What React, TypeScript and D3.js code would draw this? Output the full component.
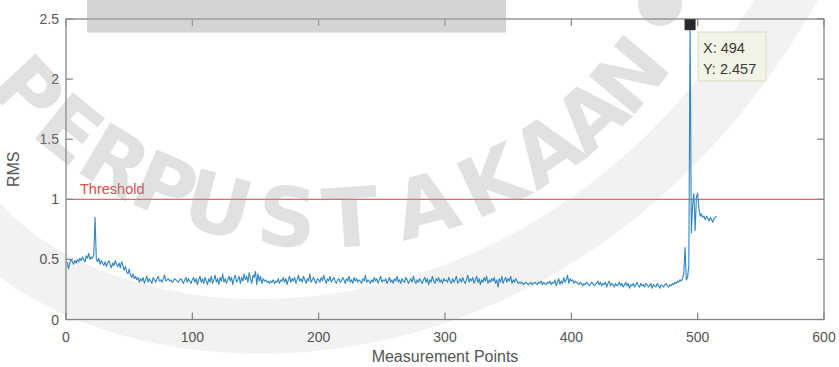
import React from "react";
import * as d3 from "d3";

const rms: number[] = [
  0.48,0.42,0.47,0.50,0.48,0.46,0.49,0.47,0.50,0.48,0.51,0.49,0.52,0.50,0.48,0.53,0.51,0.55,0.50,0.52,
  0.51,0.54,0.85,0.50,0.48,0.51,0.46,0.49,0.47,0.45,0.48,0.44,0.47,0.49,0.46,0.43,0.47,0.45,0.49,0.46,
  0.44,0.47,0.43,0.48,0.45,0.41,0.44,0.40,0.38,0.42,0.37,0.35,0.38,0.34,0.36,0.33,0.35,0.31,0.34,0.32,
  0.35,0.30,0.33,0.36,0.31,0.34,0.32,0.30,0.35,0.33,0.31,0.34,0.36,0.32,0.33,0.31,0.34,0.37,0.32,0.33,
  0.34,0.32,0.33,0.31,0.32,0.34,0.33,0.32,0.31,0.33,0.34,0.32,0.30,0.33,0.35,0.31,0.34,0.32,0.30,0.33,
  0.35,0.31,0.34,0.29,0.33,0.36,0.31,0.34,0.30,0.35,0.32,0.29,0.34,0.31,0.36,0.30,0.33,0.37,0.31,0.34,
  0.29,0.35,0.32,0.38,0.31,0.34,0.30,0.33,0.36,0.32,0.35,0.29,0.34,0.37,0.31,0.33,0.36,0.30,0.35,0.32,
  0.38,0.33,0.36,0.31,0.39,0.34,0.30,0.37,0.35,0.40,0.29,0.38,0.32,0.36,0.30,0.34,0.32,0.33,0.31,0.32,
  0.30,0.32,0.31,0.33,0.30,0.32,0.31,0.34,0.30,0.33,0.32,0.35,0.31,0.34,0.29,0.33,0.36,0.31,0.34,0.32,
  0.35,0.30,0.33,0.37,0.32,0.34,0.31,0.36,0.33,0.30,0.34,0.32,0.38,0.31,0.33,0.35,0.32,0.30,0.34,0.33,
  0.31,0.35,0.32,0.37,0.33,0.30,0.34,0.32,0.36,0.31,0.33,0.35,0.32,0.30,0.33,0.34,0.31,0.32,0.35,0.33,
  0.30,0.34,0.32,0.36,0.31,0.33,0.30,0.35,0.32,0.34,0.31,0.33,0.32,0.30,0.34,0.32,0.37,0.31,0.33,0.32,
  0.30,0.33,0.31,0.35,0.32,0.34,0.30,0.33,0.36,0.31,0.33,0.32,0.34,0.30,0.32,0.35,0.31,0.33,0.30,0.34,
  0.32,0.36,0.31,0.33,0.30,0.34,0.32,0.31,0.35,0.33,0.30,0.32,0.34,0.31,0.36,0.32,0.30,0.33,0.31,0.34,
  0.32,0.30,0.33,0.35,0.31,0.34,0.29,0.33,0.31,0.36,0.32,0.30,0.34,0.32,0.35,0.31,0.33,0.30,0.34,0.32,
  0.33,0.31,0.35,0.32,0.30,0.34,0.31,0.33,0.36,0.30,0.32,0.34,0.31,0.35,0.32,0.30,0.33,0.37,0.31,0.34,
  0.32,0.35,0.30,0.33,0.36,0.31,0.34,0.29,0.33,0.31,0.35,0.32,0.36,0.30,0.33,0.31,0.34,0.32,0.35,0.30,
  0.33,0.27,0.34,0.31,0.36,0.30,0.33,0.35,0.31,0.34,0.32,0.36,0.30,0.33,0.31,0.34,0.32,0.30,0.31,0.30,
  0.31,0.29,0.30,0.31,0.30,0.29,0.30,0.31,0.29,0.30,0.31,0.30,0.29,0.31,0.30,0.32,0.29,0.31,0.30,0.29,
  0.31,0.30,0.32,0.29,0.31,0.30,0.33,0.28,0.31,0.34,0.29,0.32,0.30,0.35,0.31,0.33,0.37,0.30,0.34,0.32,
  0.33,0.30,0.32,0.31,0.30,0.29,0.31,0.30,0.28,0.30,0.29,0.31,0.30,0.28,0.29,0.31,0.30,0.28,0.29,0.30,
  0.32,0.29,0.31,0.28,0.30,0.29,0.31,0.27,0.30,0.32,0.28,0.30,0.29,0.27,0.30,0.28,0.29,0.31,0.28,0.30,
  0.27,0.29,0.31,0.28,0.30,0.26,0.29,0.28,0.30,0.27,0.29,0.31,0.28,0.27,0.30,0.28,0.29,0.27,0.30,0.29,
  0.27,0.28,0.30,0.26,0.29,0.28,0.27,0.30,0.28,0.26,0.29,0.28,0.27,0.29,0.30,0.28,0.27,0.29,0.28,0.30,
  0.29,0.31,0.30,0.32,0.31,0.33,0.32,0.34,0.38,0.60,0.33,0.35,0.45,2.457,0.72,0.95,1.05,0.74,1.02,1.05,
  0.92,0.86,0.88,0.85,0.86,0.83,0.86,0.84,0.82,0.85,0.83,0.81,0.84,0.85,0.86
];

const xTicks = [0, 100, 200, 300, 400, 500, 600];
const yTicks = [0, 0.5, 1, 1.5, 2, 2.5];
const yTickLabels = ["0", "0.5", "1", "1.5", "2", "2.5"];
const thresholdValue = 1;
const tipX = 494;
const tipY = 2.457;
const xLabel = "Measurement Points";
const yLabel = "RMS";
const watermarkLetters = ["P","E","R","P","U","S","T","A","K","A","A","N"];
const watermarkAngles = [137, 129, 121, 113, 105, 95, 86, 75, 65, 56, 48, 40];

export default function App() {
  const W = 839, H = 367;
  const x = d3.scaleLinear().domain([0, 600]).range([66, 824]);
  const y = d3.scaleLinear().domain([0, 2.5]).range([319.5, 19]);
  const line = d3.line<number>().x((_, i) => x(i + 1)).y((d) => y(d));
  const font = "'Liberation Sans', Arial, Helvetica, sans-serif";
  const axisCol = "#858585";
  const textCol = "#555555";
  const tick = 7;
  const [x0, x1] = x.range();
  const [yb, yt] = y.range();
  const cx = 322, cy = -183, R = 402;

  return (
    <svg width={W} height={H} style={{ position: "absolute", left: 0, top: 0, background: "#fff" }}
      fontFamily={font}>
      <rect x={0} y={0} width={W} height={H} fill="#fff" />
      {/* faint watermark band */}
      <path d="M -20 222 C 120 380, 560 400, 795 -15" fill="none" stroke="#f2f2f2" strokeWidth={55} />

      {/* threshold */}
      <line x1={x0} x2={x1} y1={y(thresholdValue)} y2={y(thresholdValue)} stroke="#e06a6a" strokeWidth={1.2} />
      <text x={80} y={194} fontSize={14.5} fill="#d84c4c">Threshold</text>

      {/* data */}
      <path d={line(rms) || ""} fill="none" stroke="#2f86c1" strokeWidth={1.1} strokeLinejoin="round" />

      {/* axes box */}
      <rect x={x0} y={yt} width={x1 - x0} height={yb - yt} fill="none" stroke={axisCol} strokeWidth={1.3} />
      {xTicks.map((t) => (
        <g key={"x" + t}>
          <line x1={x(t)} x2={x(t)} y1={yb} y2={yb - tick} stroke={axisCol} strokeWidth={1.2} />
          <line x1={x(t)} x2={x(t)} y1={yt} y2={yt + tick} stroke={axisCol} strokeWidth={1.2} />
          <text x={x(t)} y={yb + 22} fontSize={14} textAnchor="middle" fill={textCol}>{t}</text>
        </g>
      ))}
      {yTicks.map((t, i) => (
        <g key={"y" + t}>
          <line x1={x0} x2={x0 + tick} y1={y(t)} y2={y(t)} stroke={axisCol} strokeWidth={1.2} />
          <line x1={x1} x2={x1 - tick} y1={y(t)} y2={y(t)} stroke={axisCol} strokeWidth={1.2} />
          <text x={x0 - 7} y={y(t) + 5} fontSize={14} textAnchor="end" fill={textCol}>{yTickLabels[i]}</text>
        </g>
      ))}
      <text x={(x0 + x1) / 2} y={362} fontSize={16} textAnchor="middle" fill={textCol}>{xLabel}</text>
      <text transform={`translate(19, ${(yb + yt) / 2}) rotate(-90)`} fontSize={16} textAnchor="middle" fill={textCol}>{yLabel}</text>

      {/* data tip */}
      <rect x={x(tipX) - 5.5} y={y(tipY) - 5} width={11} height={11} fill="#2a2a2a" />
      <rect x={698} y={32} width={68} height={49} fill="#f3f3e6" stroke="#dadacb" strokeWidth={1} />
      <text x={703} y={53} fontSize={14.5} fill="#3a3a3a">X: {tipX}</text>
      <text x={703} y={74} fontSize={14.5} fill="#3a3a3a">Y: {tipY}</text>

      {/* gray bar overlay at top */}
      <rect x={87} y={0} width={419} height={32.5} fill="#a9a9a9" opacity={0.5} />

      {/* watermark */}
      <g opacity={0.3} fill="#9a9a9a" fontFamily="'DejaVu Sans', sans-serif" fontWeight="bold">
        {watermarkLetters.map((ch, i) => {
          const a = (watermarkAngles[i] * Math.PI) / 180;
          const px = cx + R * Math.cos(a);
          const py = cy + R * Math.sin(a);
          return (
            <text key={i} x={0} y={0} fontSize={82} textAnchor="middle" dominantBaseline="central"
              transform={`translate(${px}, ${py}) rotate(${watermarkAngles[i] - 90})`}>{ch}</text>
          );
        })}
        <circle cx={660} cy={4} r={22} />
      </g>
    </svg>
  );
}
